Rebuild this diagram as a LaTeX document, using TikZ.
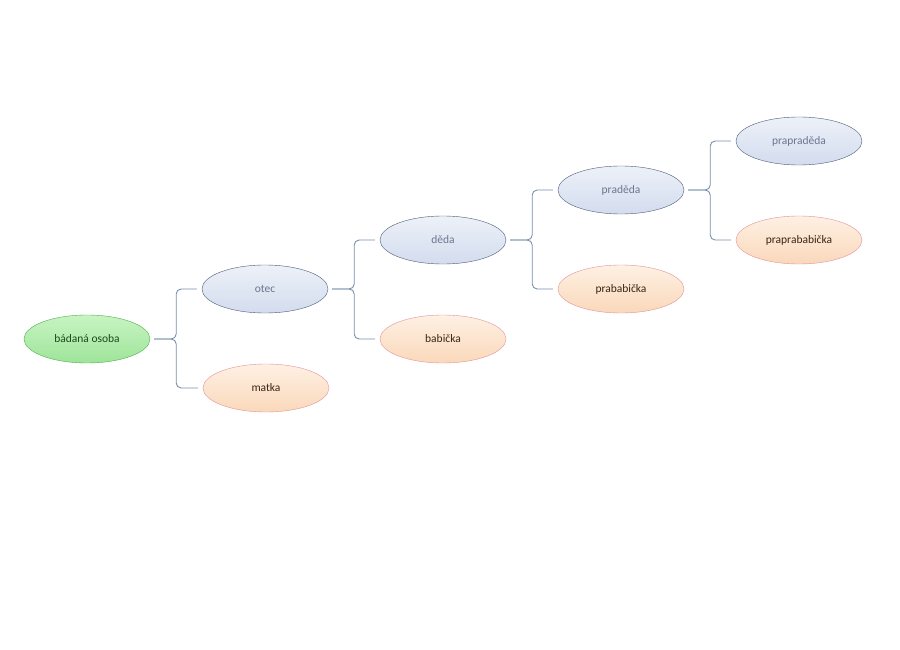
\documentclass[tikz,border=0pt]{standalone}
\usepackage{fontspec}
\setmainfont{Carlito}
\usetikzlibrary{shapes.geometric,calc}
\definecolor{selffill}{HTML}{9EE49A}
\definecolor{selftop}{HTML}{C8F4C2}
\definecolor{selfline}{HTML}{4CAE4C}
\definecolor{selftext}{HTML}{1D4A1D}
\definecolor{manfill}{HTML}{D3DCEE}
\definecolor{mantop}{HTML}{EDF1F8}
\definecolor{manline}{HTML}{4B5A78}
\definecolor{mantext}{HTML}{6E7690}
\definecolor{womanfill}{HTML}{FAD8BA}
\definecolor{womantop}{HTML}{FEF0E4}
\definecolor{womanline}{HTML}{E0929A}
\definecolor{womantext}{HTML}{3A2414}
\definecolor{linkline}{HTML}{7890AC}

\begin{document}
\begin{tikzpicture}[
  x=1pt, y=-1pt,
  font=\fontsize{11.5}{13}\selectfont,
  person/.style = {ellipse, inner sep=0pt, minimum width=126pt, minimum height=48pt},
  self/.style   = {person, draw=selfline, top color=selftop, bottom color=selffill, text=selftext},
  man/.style    = {person, draw=manline, top color=mantop, bottom color=manfill, text=mantext},
  woman/.style  = {person, draw=womanline, top color=womantop, bottom color=womanfill, text=womantext},
  link/.style   = {draw=linkline, line width=0.9pt, rounded corners=5pt,
                   shorten <=4pt, shorten >=5pt},
]
\useasboundingbox (0,0) rectangle (900,650);

% --- the person and the generations above ------------------------------------------------
\node[self]  (osoba)    at (87,339)  {bádaná osoba};
\node[man]   (otec)     at (265,289) {otec};
\node[woman] (matka)    at (266,388) {matka};
\node[man]   (deda)     at (443,240) {děda};
\node[woman] (babicka)  at (443,339) {babička};
\node[man]   (prad)     at (621,190) {praděda};
\node[woman] (prab)     at (621,289) {prababička};
\node[man]   (praprad)  at (799,141) {prapraděda};
\node[woman] (praprab)  at (799,240) {praprababička};

% --- brackets from each person to the two parents ------------------------------------------
\foreach \kid/\dad/\mum in {osoba/otec/matka, otec/deda/babicka, deda/prad/prab, prad/praprad/praprab} {
  \draw[link] (\kid.east) -- ++(26,0) |- (\dad.west);
  \draw[link] (\kid.east) -- ++(26,0) |- (\mum.west);
}

\end{tikzpicture}
\end{document}
